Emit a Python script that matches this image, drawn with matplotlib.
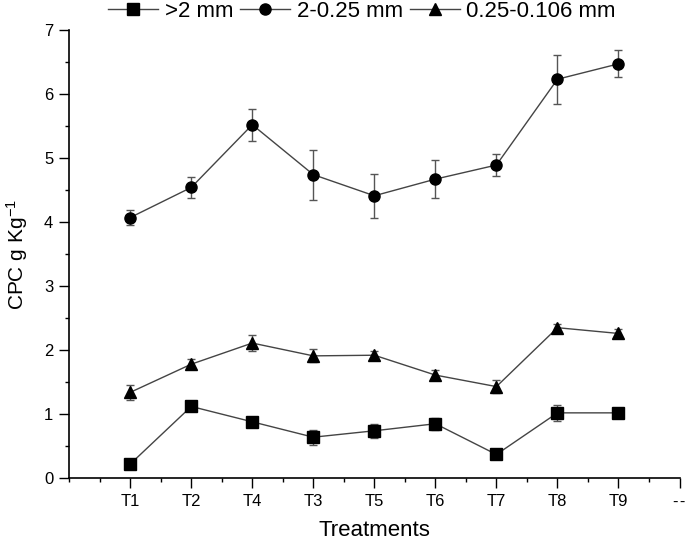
import matplotlib
matplotlib.use('Agg')
import matplotlib.pyplot as plt
from matplotlib.ticker import MultipleLocator

plt.rcParams['font.family'] = ['Liberation Sans', 'DejaVu Sans']
plt.rcParams['mathtext.fontset'] = 'custom'
plt.rcParams['mathtext.rm'] = 'Liberation Sans'
plt.rcParams['mathtext.it'] = 'Liberation Sans'

treatments = ['T1', 'T2', 'T4', 'T3', 'T5', 'T6', 'T7', 'T8', 'T9']

# >2 mm
big = [0.22, 1.12, 0.88, 0.64, 0.74, 0.85, 0.37, 1.02, 1.02]
big_err = [0.02, 0.03, 0.07, 0.12, 0.11, 0.09, 0.03, 0.13, 0.02]
# 2-0.25 mm
mid = [4.07, 4.54, 5.52, 4.74, 4.41, 4.67, 4.89, 6.23, 6.47]
mid_err = [0.12, 0.17, 0.25, 0.39, 0.34, 0.30, 0.17, 0.38, 0.21]
# 0.25-0.106 mm
small = [1.34, 1.78, 2.11, 1.91, 1.92, 1.61, 1.43, 2.35, 2.26]
small_err = [0.12, 0.08, 0.13, 0.10, 0.06, 0.08, 0.10, 0.06, 0.07]

x = list(range(1, len(treatments) + 1))

fig = plt.figure(figsize=(6.85, 5.44), dpi=100)
ax = fig.add_axes([0.101, 0.121, 0.891, 0.824])

series = [(big, big_err, 's', '>2 mm'),
          (mid, mid_err, 'o', '2-0.25 mm'),
          (small, small_err, '^', '0.25-0.106 mm')]
for vals, err, mk, lab in series:
    ax.errorbar(x, vals, yerr=err, fmt='none', ecolor='#555555', elinewidth=1,
                capsize=3.2, capthick=1, zorder=2)
    ax.plot(x, vals, color='#444444', lw=1, marker=mk, markersize=8,
            markerfacecolor='black', markeredgecolor='black', label=lab, zorder=3)

ax.set_xlim(0, 10)
ax.set_ylim(0, 7)
ax.set_xticks(list(range(1, 11)))
ax.set_xticklabels(treatments + ['-\u200a-'])
ax.xaxis.set_minor_locator(MultipleLocator(0.5))
ax.yaxis.set_major_locator(MultipleLocator(1))
ax.yaxis.set_minor_locator(MultipleLocator(0.5))
ax.tick_params(which='major', direction='out', length=7, width=1, labelsize=12, pad=4.5)
ax.tick_params(which='minor', direction='out', length=3.2, width=1)
ax.spines['top'].set_visible(False)
ax.spines['right'].set_visible(False)
for s in ['left', 'bottom']:
    ax.spines[s].set_linewidth(1.2)
ax.set_xlabel('Treatments', fontsize=16, labelpad=8)
ax.set_ylabel('CPC g Kg$^{-1}$', fontsize=15, labelpad=10)

ax.legend(loc='center', bbox_to_anchor=(0.48, 1.042), ncol=3, frameon=False,
          fontsize=16, handlelength=2.25, handletextpad=0.3, columnspacing=0.3,
          borderaxespad=0, borderpad=0)

fig.savefig('out.png', dpi=100)
